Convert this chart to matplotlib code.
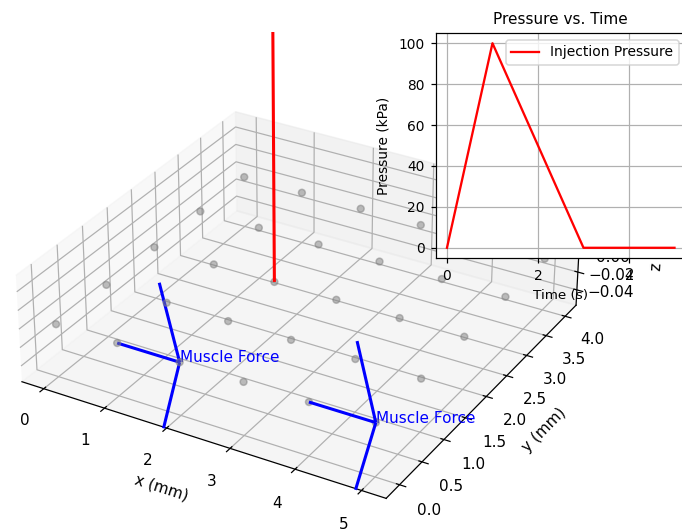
import numpy as np
import matplotlib
matplotlib.use("Agg")
import matplotlib.pyplot as plt

# ---- data ----
grid_x = [0, 1, 2, 3, 4, 5]
grid_y = [0, 1, 2, 3, 4]

injection_point = [2, 2, 0]
injection_dir = [0, 0, 1]

muscle_points = [[1, 0, 0], [4, 0, 0]]
muscle_dirs = [[1, 0, 0], [1, 0, 0]]
muscle_label = "Muscle Force"

time_s = [0, 1, 3, 5]
pressure_kpa = [0, 100, 0, 0]
time_ticks = [0, 2, 4]

DPI = 110
W, H = 682, 532
fig = plt.figure(figsize=(W / DPI, H / DPI), dpi=DPI)
side = 532
cx, cy = 298, 298
ax = fig.add_axes([(cx - side / 2) / W, 1 - (cy + side / 2) / H, side / W, side / H],
                  projection='3d')
ax.set_box_aspect((4, 4, 1.18), zoom=1.08)

X, Y = np.meshgrid(grid_x, grid_y)
Z = np.zeros_like(X, dtype=float)
ax.scatter(X.ravel(), Y.ravel(), Z.ravel(), color='gray', alpha=0.5)

ax.quiver(*injection_point, *injection_dir, color='red', linewidth=2)

for p, d in zip(muscle_points, muscle_dirs):
    ax.quiver(*p, *d, color='blue', linewidth=2)
    tip = [p[i] + d[i] for i in range(3)]
    ax.text(tip[0], tip[1], tip[2], muscle_label, color='blue')

ax.set_xlabel('x (mm)', labelpad=8)
ax.set_ylabel('y (mm)', labelpad=7)
ax.set_zlabel('z (mm)', labelpad=6)
ax.tick_params(axis='x', pad=7)
ax.tick_params(axis='y', pad=6)

ins = fig.add_axes([0.6387, 0.515, 0.367, 0.423])
ins.plot(time_s, pressure_kpa, color='red', label='Injection Pressure')
ins.set_title('Pressure vs. Time', fontsize=10)
ins.set_xlabel('Time (s)', fontsize=8.8)
ins.set_ylabel('Pressure (kPa)', fontsize=9, labelpad=5.5)
ins.set_xticks(time_ticks)
ins.tick_params(labelsize=9)
ins.grid(True)
ins.legend(fontsize=9.1)

fig.savefig('out.png', dpi=DPI)
